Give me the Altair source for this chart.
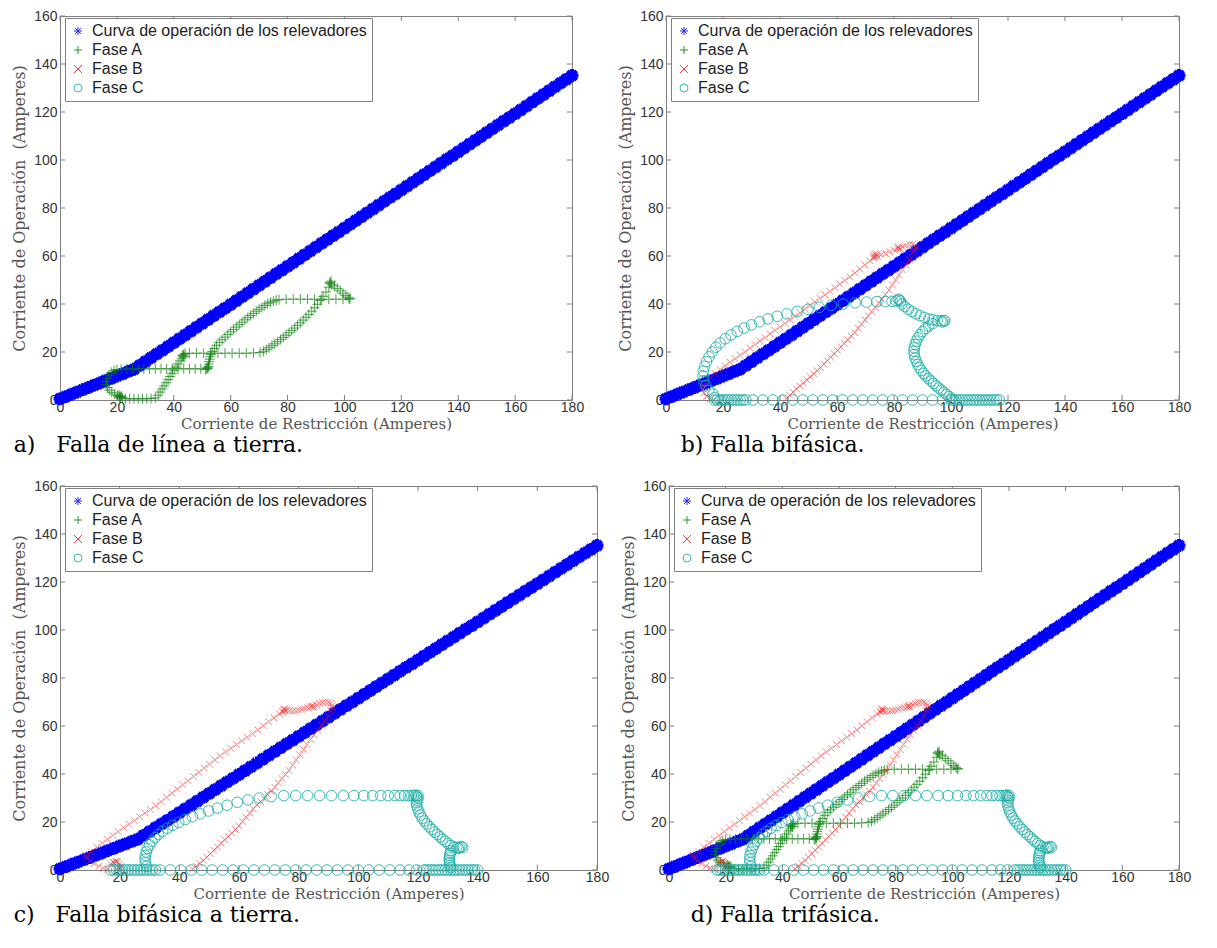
import altair as alt
import pandas as pd

SERIES = ["Curva de operación de los relevadores", "Fase A", "Fase B", "Fase C"]
COLORS = ["#0000ff", "#0a800a", "#f02020", "#1aaea6"]
SHAPES = [
    "M-1,0L1,0M0,-1L0,1M-0.72,-0.72L0.72,0.72M-0.72,0.72L0.72,-0.72",
    "M-1,0L1,0M0,-1L0,1",
    "M-1,-1L1,1M-1,1L1,-1",
    "circle",
]
SIZES = [165, 100, 45, 112]
STROKES = [4, 1, 1, 1]
OPAC = [1.0, 0.72, 0.55, 0.85]

X_TICKS = [0, 20, 40, 60, 80, 100, 120, 140, 160, 180]
Y_TICKS = [0, 20, 40, 60, 80, 100, 120, 140, 160]

CURVE_X = [0, 2, 4, 6, 8, 10, 12, 14, 16, 18, 20, 22, 24, 26, 28, 30, 32, 34, 36, 38,
           40, 42, 44, 46, 48, 50, 52, 54, 56, 58, 60, 62, 64, 66, 68, 70, 72, 74, 76, 78,
           80, 82, 84, 86, 88, 90, 92, 94, 96, 98, 100, 102, 104, 106, 108, 110, 112, 114,
           116, 118, 120, 122, 124, 126, 128, 130, 132, 134, 136, 138, 140, 142, 144, 146,
           148, 150, 152, 154, 156, 158, 160, 162, 164, 166, 168, 170, 172, 174, 176, 178, 180]
CURVE_Y = [0.5, 1.4, 2.4, 3.3, 4.3, 5.2, 6.2, 7.1, 8.1, 9.0, 10.0, 10.9, 11.9, 12.8, 14.4,
           16.0, 17.6, 19.2, 20.7, 22.3, 23.9, 25.5, 27.1, 28.7, 30.3, 31.9, 33.5, 35.1, 36.7,
           38.2, 39.8, 41.4, 43.0, 44.6, 46.2, 47.8, 49.4, 51.0, 52.6, 54.1, 55.7, 57.3, 58.9,
           60.5, 62.1, 63.7, 65.3, 66.9, 68.5, 70.0, 71.6, 73.2, 74.8, 76.4, 78.0, 79.6, 81.2,
           82.8, 84.4, 85.9, 87.5, 89.1, 90.7, 92.3, 93.9, 95.5, 97.1, 98.7, 100.3, 101.8,
           103.4, 105.0, 106.6, 108.2, 109.8, 111.4, 113.0, 114.6, 116.2, 117.7, 119.3, 120.9,
           122.5, 124.1, 125.7, 127.3, 128.9, 130.5, 132.1, 133.6, 135.2]

# Fase A, falla de linea a tierra (panels a and d)
FASE_A_LT = [
    (21, 1), (21.6, 1.6), (22, 0.9), (20.7, 2), (21.3, 1.2),
    (23, 0.5), (24.5, 0.5), (26, 0.5), (27.5, 0.5), (29, 0.5), (30.5, 0.5), (32, 0.6), (33.5, 0.9),
    (34.5, 2), (35.2, 3.3), (35.9, 4.6), (36.6, 5.9), (37.3, 7.2), (38, 8.5), (38.7, 9.8),
    (39.4, 11.1), (40.1, 12.4), (40.8, 13.7), (41.5, 15), (42.2, 16.3), (42.8, 17.4), (43.3, 18.2),
    (43.5, 19), (43, 18.6), (44, 19.4), (43.6, 18),
    (45.5, 19.5), (48, 19.5), (50.5, 19.5), (53, 19.5), (55.5, 19.5), (58, 19.5), (60.5, 19.5),
    (63, 19.5), (65.5, 19.5), (68, 19.6), (70.3, 19.8),
    (71.5, 20.3), (72.5, 21), (73.5, 21.8), (74.5, 22.6), (75.5, 23.4), (76.5, 24.3), (77.5, 25.2),
    (78.5, 26.1), (79.5, 27), (80.5, 28), (81.5, 29), (82.5, 30), (83.5, 31.1), (84.5, 32.2),
    (85.5, 33.3), (86.5, 34.5), (87.5, 35.7), (88.5, 37), (89.5, 38.4), (90.5, 39.9), (91.5, 41.5),
    (92.5, 43.2), (93.5, 45), (94.5, 47),
    (95, 48.5), (95.5, 48), (94.8, 49), (95.3, 49.5),
    (96.5, 47.5), (97.5, 46.5), (98.5, 45.5), (99.5, 44.5), (100.5, 43.5), (101.3, 42.8), (102, 42.3), (101.7, 42),
    (99.5, 42), (97, 42), (94.5, 42), (92, 42), (89.5, 42), (87, 42), (84.5, 42), (82, 42), (79.5, 42), (77, 41.8),
    (76, 41.6), (75, 41.2), (74, 40.7), (73, 40.1), (72, 39.4), (71, 38.6), (70, 37.8), (69, 37),
    (68, 36.1), (67, 35.2), (66, 34.3), (65, 33.4), (64, 32.4), (63, 31.4), (62, 30.4), (61, 29.4),
    (60, 28.4), (59, 27.3), (58, 26.2), (57, 25.1), (56, 24), (55, 22.8), (54.3, 21.5), (53.5, 20.2),
    (53, 19), (52.8, 18), (52.6, 17), (52.4, 16), (52.3, 15), (52.2, 14), (52, 13.2), (51.6, 13),
    (51.2, 12.7), (51.8, 13.6),
    (49.5, 13), (47.5, 13), (45.5, 13), (43.5, 13), (41.5, 13), (39.5, 13), (37.5, 13), (35.5, 13),
    (33.5, 13), (31.5, 13), (29.5, 13), (27.5, 13), (25.5, 13), (23.5, 12.9), (21.5, 12.8), (20, 12.7),
    (19, 12.3), (18, 11.5), (17.2, 10.3), (16.6, 9), (16.3, 7.7), (16.3, 6.4), (16.7, 5.2),
    (17.3, 4.1), (18.2, 3.2), (19.2, 2.5), (20.2, 1.9), (21, 1.4),
]

# Fase B, falla bifasica (panel b)
FASE_B_BF = [
    (15.5, 0.5), (14.2, 1.5), (13.3, 3), (13, 4.5), (13.3, 6), (14, 7.3),
    (15.5, 9.4), (17.25, 11), (19, 12.7), (20.75, 14.2), (22.5, 15.7), (24.25, 17.2), (26, 18.6),
    (27.75, 20.1), (29.5, 21.6), (31.25, 23.1), (33, 24.6), (34.75, 26.0), (36.5, 27.5),
    (38.25, 29.0), (40, 30.5), (41.75, 31.9), (43.5, 33.4), (45.25, 34.9), (47, 36.3),
    (48.75, 37.8), (50.5, 39.4), (52.25, 40.9), (54, 42.3), (55.75, 43.8), (57.5, 45.3),
    (59.25, 46.8), (61, 48.3), (62.75, 49.8), (64.5, 51.3), (66.25, 52.9), (68, 54.6),
    (69.75, 56.3), (71.5, 58), (73, 59.5),
    (73, 60.2), (73.6, 59.6), (74, 60.6), (73.3, 61), (74.2, 59.8), (72.8, 59.2),
    (75.5, 60.5), (77, 61), (78.5, 61.7), (80, 62.4), (81.2, 63),
    (81.7, 63.3), (82.2, 63), (81.4, 63.7),
    (83, 63.8), (84.2, 64.4), (85.4, 64.8), (86.5, 64.8), (87.3, 64.3), (87.6, 63.4), (87.4, 62.4),
    (86.6, 61.5), (85.4, 58.5), (84.2, 56.2), (83, 54.2), (81.8, 52.1), (80.6, 50.0), (79.4, 48.0),
    (78.2, 45.9), (77, 43.9), (75.8, 42.1), (74.6, 40.4), (73.4, 38.6), (72.2, 36.9), (71, 35.1),
    (69.8, 33.4), (68.6, 31.6), (67.4, 29.9), (66.2, 28.1), (65, 26.6), (63.8, 25.1), (62.6, 23.6),
    (61.4, 22.2), (60.2, 20.7), (59, 19.3), (57.8, 17.8), (56.6, 16.4), (55.4, 14.9), (54.2, 13.5),
    (53, 12.2), (51.8, 10.9), (50.6, 9.7), (49.4, 8.4), (48.2, 7.1), (47, 5.9), (45.8, 4.6),
    (44.6, 3.3), (43.4, 2.0), (42.2, 0.6),
]

# Fase C, falla bifasica (panel b)
FASE_C_BF = [
    (17, 0), (18, 0), (19, 0), (20, 0), (21, 0), (22, 0), (23, 0), (24, 0), (25, 0), (26, 0),
    (27, 0), (28, 0), (17, 1), (16.5, 2.5),
    (15, 4), (14, 6), (13.3, 8), (13, 10), (13.1, 12), (13.5, 14), (14.2, 16), (15.1, 18),
    (16.2, 20), (17.5, 22), (19, 23.8), (20.8, 25.5), (22.8, 27.1), (25, 28.6), (27.4, 30),
    (30, 31.3), (32.8, 32.6), (35.8, 33.8), (39, 34.9), (42.4, 35.9), (46, 36.9), (49.8, 37.8),
    (53.8, 38.6), (58, 39.4), (62.2, 40), (66.4, 40.5), (70.4, 40.8), (74, 41), (77, 41),
    (79.3, 41.1), (80.8, 41.3), (81.8, 41.6), (82.3, 41.2), (81.5, 42),
    (82.8, 40), (83.8, 38.9), (85, 37.8), (86.3, 36.8), (87.7, 35.9), (89.2, 35.1), (90.7, 34.4),
    (92.2, 33.8), (93.7, 33.4), (95.2, 33.1), (96.5, 33), (97.5, 33.1), (97.8, 33), (97, 32.5),
    (93.5, 31.8), (92.2, 30.8), (91, 29.7), (90, 28.5), (89.1, 27.2), (88.4, 25.9), (87.8, 24.5),
    (87.4, 23.1), (87.1, 21.7), (87, 20.3), (87.1, 18.9), (87.4, 17.5), (87.8, 16.1), (88.3, 14.8),
    (88.9, 13.5), (89.6, 12.3), (90.4, 11.1), (91.2, 10), (92.1, 8.9), (93, 7.9), (93.9, 6.9),
    (94.8, 5.9), (95.7, 5), (96.6, 4.1), (97.5, 3.2), (98.4, 2.3), (99.3, 1.5), (100.2, 0.7),
    (100, 0), (101, 0), (102, 0), (103, 0), (104, 0), (105, 0), (106, 0), (107, 0), (108, 0),
    (109, 0), (110, 0), (111, 0), (112, 0), (113, 0), (114, 0), (115, 0), (116, 0), (117, 0),
    (30.5, 0), (34, 0), (37.5, 0), (41, 0), (44.5, 0), (48, 0), (51.5, 0), (55, 0), (58.5, 0),
    (62, 0), (65.5, 0), (69, 0), (72.5, 0), (76, 0), (79.5, 0), (83, 0), (86.5, 0), (90, 0),
    (93.5, 0), (97, 0),
]

# Fase B, falla bifasica a tierra (panels c and d)
FASE_B_BT = [
    (17, 2.5), (17.8, 3.2), (18.5, 3.5), (19.3, 3.2), (20, 2.5), (20.5, 1.6), (20.2, 0.8), (19, 0.5),
    (18.2, 2.8), (19, 3.6),
    (16, 0.3), (14.5, 0.8), (13, 1.6), (11.5, 2.6), (10, 3.8), (9, 5), (8.6, 6.2),
    (10.5, 7.6), (12.3, 9.5), (14.1, 11.1), (15.9, 12.8), (17.7, 14.4), (19.5, 16.0), (21.3, 17.6),
    (23.1, 19.1), (24.9, 20.6), (26.7, 22.2), (28.5, 23.7), (30.3, 25.2), (32.1, 26.8), (33.9, 28.5),
    (35.7, 30.3), (37.5, 32.0), (39.3, 33.7), (41.1, 35.5), (42.9, 37.2), (44.7, 39.0), (46.5, 40.7),
    (48.3, 42.4), (50.1, 44.1), (51.9, 45.9), (53.7, 47.6), (55.5, 49.2), (57.3, 50.7), (59.1, 52.3),
    (60.9, 53.8), (62.7, 55.3), (64.5, 56.8), (66.3, 58.4), (68.1, 60.1), (69.9, 61.8), (71.7, 63.4),
    (73.5, 65.1),
    (74.5, 66), (75, 66.8), (75.5, 66.3), (75.2, 67.2), (76, 66.6), (74.8, 65.8),
    (77, 66.4), (78, 66.2), (79, 66.3), (80, 66.6), (81, 67), (82, 67.4), (83, 67.7), (84, 68),
    (84.5, 68.2), (85, 67.8), (84.8, 68.6),
    (86, 68.8), (87, 69.4), (88, 69.8), (89, 70), (90, 69.9), (90.8, 69.4), (91.2, 68.5),
    (91.2, 67.5), (90.8, 66.4),
    (90, 64.1), (88.8, 62.1), (87.6, 60.2), (86.4, 58.2), (85.2, 56.3), (84, 54.4), (82.8, 52.3),
    (81.6, 50.2), (80.4, 48.0), (79.2, 45.9), (78, 43.7), (76.8, 41.5), (75.6, 39.8), (74.4, 38.1),
    (73.2, 36.3), (72, 34.5), (70.8, 32.8), (69.6, 31.4), (68.4, 29.9), (67.2, 28.5), (66, 27.1),
    (64.8, 25.5), (63.6, 23.7), (62.4, 22.0), (61.2, 20.2), (60, 18.4), (58.8, 16.9), (57.6, 15.4),
    (56.4, 14.0), (55.2, 12.6), (54, 11.1), (52.8, 9.6), (51.6, 8.2), (50.4, 6.8), (49.2, 5.3),
    (48, 4.0), (46.8, 2.8), (45.6, 1.6), (44.4, 0.4),
]

# Fase C, falla bifasica a tierra (panels c and d)
FASE_C_BT = [
    (17, 0), (18, 0), (19, 0), (20, 0), (21, 0), (22, 0), (23, 0), (24, 0), (25, 0), (26, 0),
    (27, 0), (28, 0), (29, 0), (30, 0), (31, 0), (32, 0),
    (29, 1.5), (28.6, 3), (28.5, 4.5), (28.6, 6), (28.9, 7.5), (29.4, 9), (30, 10.5), (30.8, 12),
    (31.8, 13.4), (33, 14.8), (34.4, 16.1), (36, 17.4), (37.8, 18.6), (39.8, 19.8), (42, 21),
    (44.4, 22.2), (47, 23.4), (49.8, 24.6), (52.8, 25.8), (56, 27), (59.4, 28.2), (63, 29.2),
    (66.8, 30), (70.8, 30.6), (75, 31), (79, 31), (83, 31), (87, 31), (91, 31), (95, 31),
    (98.5, 31), (101.8, 31), (104.8, 31), (107.5, 31), (110, 31), (112.2, 31), (114, 31),
    (115.5, 31), (116.8, 31), (117.8, 31), (118.6, 31), (119.3, 31.2), (120, 31), (119.5, 30.5),
    (120, 30), (119.7, 29),
    (119.5, 28), (119.6, 26.8), (119.9, 25.5), (120.3, 24.2), (120.8, 22.9), (121.4, 21.6),
    (122.1, 20.4), (122.9, 19.2), (123.8, 18), (124.7, 16.9), (125.6, 15.8), (126.5, 14.8),
    (127.4, 13.8), (128.3, 12.8), (129.2, 11.9), (130.1, 11), (131, 10.2), (132, 9.6), (133, 9.4),
    (134, 9.4), (135, 9.4), (134.5, 9.8), (133.5, 9.0),
    (131, 8), (130.8, 7), (130.6, 6), (130.5, 5), (130.5, 4), (130.6, 3), (130.8, 2), (131, 1),
    (122, 0), (123, 0), (124, 0), (125, 0), (126, 0), (127, 0), (128, 0), (129, 0), (130, 0),
    (131, 0), (132, 0), (133, 0), (134, 0), (135, 0), (136, 0), (137, 0), (138, 0), (139, 0), (140, 0),
    (33.5, 0), (37, 0), (40.5, 0), (44, 0), (47.5, 0), (51, 0), (54.5, 0), (58, 0), (61.5, 0),
    (65, 0), (68.5, 0), (72, 0), (75.5, 0), (79, 0), (82.5, 0), (86, 0), (89.5, 0), (93, 0),
    (96.5, 0), (100, 0), (103.5, 0), (107, 0), (110.5, 0), (114, 0), (117, 0), (119.5, 0),
]

NB = "\u00a0"
CAPTIONS = [
    "a)" + NB * 2 + " Falla de línea a tierra.",
    "b) Falla bifásica.",
    "c)" + NB * 2 + " Falla bifásica a tierra.",
    "d) Falla trifásica.",
]

H = 384
FRAME = "#808080"
SERIF = "DejaVu Serif"

X_AXIS = alt.Axis(values=X_TICKS, title="Corriente de Restricción (Amperes)", labelPadding=0,
                  titlePadding=2, labelFlush=False, labelOverlap=False, format="d")
Y_AXIS = alt.Axis(values=Y_TICKS, title="Corriente de Operación" + NB + " (Amperes)", labelPadding=3,
                  titlePadding=6, titleFontSize=16, labelFlush=False, labelOverlap=False, format="d")

LEGEND = alt.Legend(title=None, orient="none", legendX=5, legendY=2, direction="vertical",
                    padding=5, rowPadding=3, symbolSize=64, symbolStrokeWidth=1,
                    labelFont="Liberation Sans", labelFontSize=16, labelColor="#222",
                    labelLimit=400, labelOffset=6, strokeColor=FRAME, fillColor="white",
                    symbolOpacity=0.85)

COLOR_SCALE = alt.Scale(domain=SERIES, range=COLORS)
SHAPE_SCALE = alt.Scale(domain=SERIES, range=SHAPES)


def series_frame(name, xs, ys):
    return pd.DataFrame({"x": xs, "y": ys, "s": [name] * len(xs)})


def panel(parts, width, caption, cap_dx):
    xs = alt.Scale(domain=[0, 180], nice=False, zero=False)
    ys = alt.Scale(domain=[0, 160], nice=False, zero=False)
    xenc = alt.X("x:Q", scale=xs, axis=X_AXIS)
    yenc = alt.Y("y:Q", scale=ys, axis=Y_AXIS)

    all_parts = [(SERIES[0], list(zip(CURVE_X, CURVE_Y)))] + parts
    layers = []
    xt = pd.DataFrame({"x": X_TICKS})
    yt = pd.DataFrame({"y": Y_TICKS})
    layers.append(alt.Chart(xt).mark_rule(color=FRAME, strokeWidth=1).encode(x=xenc, y=alt.value(H), y2=alt.value(H - 5)))
    layers.append(alt.Chart(xt).mark_rule(color=FRAME, strokeWidth=1).encode(x=xenc, y=alt.value(0), y2=alt.value(5)))
    layers.append(alt.Chart(yt).mark_rule(color=FRAME, strokeWidth=1).encode(y=yenc, x=alt.value(0), x2=alt.value(5)))
    layers.append(alt.Chart(yt).mark_rule(color=FRAME, strokeWidth=1).encode(y=yenc, x=alt.value(width - 5), x2=alt.value(width)))

    for name, pts in all_parts:
        i = SERIES.index(name)
        df = series_frame(name, [p[0] for p in pts], [p[1] for p in pts])
        layers.append(
            alt.Chart(df).mark_point(filled=False, size=SIZES[i], strokeWidth=STROKES[i], opacity=OPAC[i]).encode(
                x=xenc, y=yenc,
                color=alt.Color("s:N", scale=COLOR_SCALE, legend=LEGEND),
                shape=alt.Shape("s:N", scale=SHAPE_SCALE, legend=LEGEND),
            )
        )
    return alt.layer(*layers).properties(
        width=width, height=H,
        title=alt.TitleParams(caption, orient="bottom", anchor="start", frame="bounds",
                              font=SERIF, fontSize=22, fontWeight="normal",
                              color="#000", offset=4, dx=cap_dx),
    )


pa = panel([("Fase A", FASE_A_LT)], 512, CAPTIONS[0], 2)
pb = panel([("Fase B", FASE_B_BF), ("Fase C", FASE_C_BF)], 513, CAPTIONS[1], 63)
pc = panel([("Fase B", FASE_B_BT), ("Fase C", FASE_C_BT)], 537, CAPTIONS[2], 2)
pd_ = panel([("Fase A", FASE_A_LT), ("Fase B", FASE_B_BT), ("Fase C", FASE_C_BT)], 510, CAPTIONS[3], 70)

row1 = alt.hconcat(pa, pb, spacing=30).resolve_scale(color="independent", shape="independent").resolve_legend(color="independent", shape="independent")
row2 = alt.hconcat(pc, pd_, spacing=8).resolve_scale(color="independent", shape="independent").resolve_legend(color="independent", shape="independent")

chart = (
    alt.vconcat(row1, row2, spacing=21)
    .resolve_scale(color="independent", shape="independent")
    .resolve_legend(color="independent", shape="independent")
    .properties(padding={"left": 3, "top": 0, "right": 0, "bottom": 0})
    .configure_view(stroke=FRAME, strokeWidth=1)
    .configure_axis(grid=False, domain=False, ticks=False, labelFont="Liberation Sans",
                    labelFontSize=14, labelColor="#333", titleFont=SERIF,
                    titleFontSize=15, titleFontWeight="normal", titleColor="#555")
)

chart.save("out.html", embed_options={"renderer": "svg", "actions": False})
